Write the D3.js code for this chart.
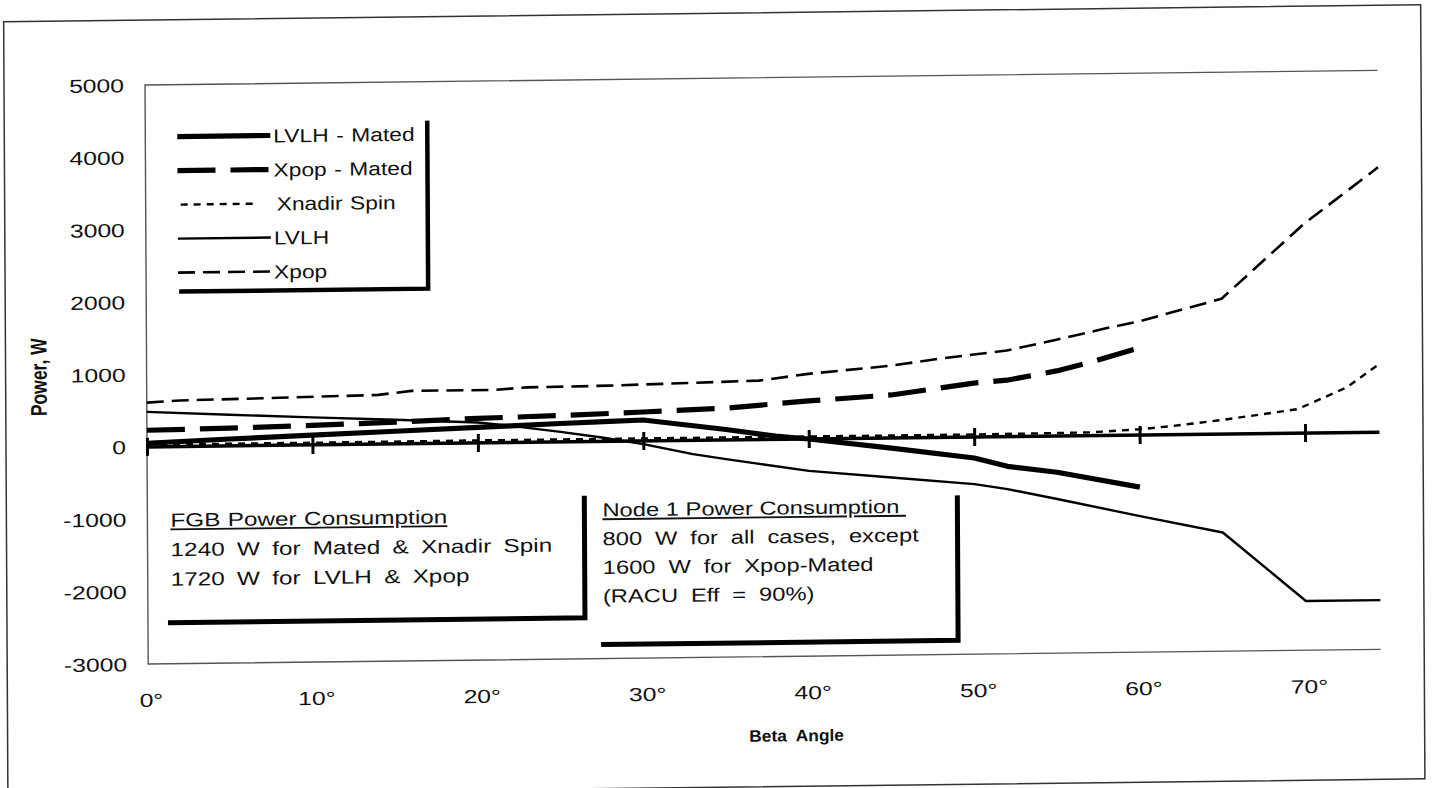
<!DOCTYPE html>
<html><head><meta charset="utf-8">
<script src="https://cdn.jsdelivr.net/npm/d3@7"></script>
<style>
body{margin:0;background:#fff;}
svg{display:block;}
text{font-family:"Liberation Sans",Arial,Helvetica,sans-serif;fill:#111;}
</style></head><body>
<svg id="chart" width="1435" height="788"></svg>
<script>
// ---------- data ----------
const betaTicks = [0, 10, 20, 30, 40, 50, 60, 70];
const betaTickLabels = ["0°", "10°", "20°", "30°", "40°", "50°", "60°", "70°"];
const powerTicks = [-3000, -2000, -1000, 0, 1000, 2000, 3000, 4000, 5000];
const powerTickLabels = ["-3000", "-2000", "-1000", "0", "1000", "2000", "3000", "4000", "5000"];
const seriesNames = ["LVLH - Mated", "Xpop - Mated", "Xnadir Spin", "LVLH", "Xpop"];

// [beta angle (deg), power (W)]
const lvlhMated = [[0,50],[5,95],[10,135],[15,175],[20,215],[22,230],[25,255],[28,275],[30,290],[35,145],[38,45],[40,0],[45,-140],[50,-290],[52,-410],[55,-500],[60,-720]];
const xpopMated = [[0,230],[5,245],[10,270],[15,300],[20,340],[25,365],[30,400],[35,440],[40,526],[45,595],[50,745],[52,780],[55,900],[57,1010],[60,1205]];
const xnadirSpin = [[0,30],[10,30],[20,35],[30,35],[40,35],[50,35],[57,45],[60,80],[62,120],[65,195],[69.5,330],[70,375],[72.5,620],[74.5,940]];
const lvlh = [[0,483],[5,430],[10,380],[15,335],[20,282],[22,230],[25,140],[27.5,54],[30,-44],[33,-190],[35,-265],[37,-335],[40,-440],[45,-545],[50,-650],[52,-725],[55,-870],[60,-1120],[65,-1360],[70,-2320],[74.5,-2320]];
const xpop = [[0,612],[2,636],[8,656],[14,680],[16,730],[21,730],[23,760],[28,770],[33,795],[37,815],[40,900],[45,1000],[48,1090],[50,1140],[52,1190],[55,1330],[58,1480],[60,1570],[65,1870],[70,2890],[74.5,3660]];

const fgbLines = ["FGB Power Consumption", "1240 W for Mated & Xnadir Spin", "1720 W for LVLH & Xpop"];
const nodeLines = ["Node 1 Power Consumption ", "800 W for all cases, except", "1600 W for Xpop-Mated", "(RACU Eff = 90%)"];

// ---------- styles / layout ----------
const seriesStyle = {
  "LVLH - Mated": {width: 5.2, dash: null},
  "Xpop - Mated": {width: 5.2, dash: "38,15"},
  "Xnadir Spin": {width: 2.4, dash: "7,6"},
  "LVLH": {width: 2.4, dash: null},
  "Xpop": {width: 2.6, dash: "17,8"}
};
const seriesData = [lvlhMated, xpopMated, xnadirSpin, lvlh, xpop];

const svg = d3.select("#chart");
svg.append("rect").attr("width", 1435).attr("height", 788).attr("fill", "#fff");

// slight skew of the scanned page
const skB = -0.0119, skC = 0.0055;
const g = svg.append("g")
  .attr("transform", `matrix(1,${skB},${skC},1,${-skC*447},${-skB*147})`);

const x = d3.scaleLinear().domain([0, 74.5]).range([147, 147 + 74.5*16.543]);
const y = d3.scaleLinear().domain([-3000, 5000]).range([664, 85]);

// outer frame
g.append("rect").attr("x", 6).attr("y", 20).attr("width", 1417).attr("height", 774)
  .attr("fill", "none").attr("stroke", "#333").attr("stroke-width", 1.5);

// plot border (top, left, bottom)
const [x0, x1] = x.range();
g.append("path")
  .attr("d", `M${x1},${y(5000)}H${x0}V${y(-3000)}H${x1}`)
  .attr("fill", "none").attr("stroke", "#555").attr("stroke-width", 1.4);

// y tick labels
g.append("g").selectAll("text").data(powerTicks).join("text")
  .attr("transform", d => `translate(126,${y(d)+7}) scale(1.3,1)`)
  .attr("text-anchor", "end").attr("font-size", 19)
  .text((d, i) => powerTickLabels[i]);

// x tick labels
g.append("g").selectAll("text").data(betaTicks).join("text")
  .attr("transform", d => `translate(${x(d)+3},707) scale(1.3,1)`)
  .attr("text-anchor", "middle").attr("font-size", 19)
  .text((d, i) => betaTickLabels[i]);

// axis titles
g.append("text").attr("transform", "translate(47,376) rotate(-90) scale(1,1.3)")
  .attr("text-anchor", "middle").attr("font-size", 17.5).attr("font-weight", "bold")
  .text("Power, W");
g.append("text").attr("transform", "translate(795,749) scale(1.05,1)")
  .attr("text-anchor", "middle").attr("font-size", 16.5).attr("font-weight", "bold")
  .style("white-space", "pre").text("Beta  Angle");

// zero axis line
g.append("line").attr("x1", x0).attr("x2", x1).attr("y1", y(0)).attr("y2", y(0))
  .attr("stroke", "#000").attr("stroke-width", 3.5);

// series
const line = d3.line().x(d => x(d[0])).y(d => y(d[1]));
g.append("g").selectAll("path").data(seriesData).join("path")
  .attr("d", d => line(d))
  .attr("fill", "none").attr("stroke", "#000")
  .attr("stroke-width", (d, i) => seriesStyle[seriesNames[i]].width)
  .attr("stroke-dasharray", (d, i) => seriesStyle[seriesNames[i]].dash)
  .attr("stroke-linejoin", "round");

// crossing ticks on zero axis
const tickAxis = d3.axisBottom(x).tickValues(betaTicks).tickSize(18).tickFormat("");
const ta = g.append("g").attr("transform", `translate(0,${y(0)-9})`).call(tickAxis);
ta.select(".domain").remove();
ta.selectAll("line").attr("stroke", "#000").attr("stroke-width", 3);

// legend
const leg = g.append("g");
seriesNames.forEach((name, i) => {
  const ly = 137 + i*34;
  const st = seriesStyle[name];
  leg.append("line").attr("x1", name === "Xnadir Spin" ? 182 : 179).attr("x2", name === "Xnadir Spin" ? 258 : 272)
    .attr("y1", ly).attr("y2", ly)
    .attr("stroke", "#000").attr("stroke-width", st.width).attr("stroke-dasharray", st.dash);
  leg.append("text").attr("transform", `translate(${name === "Xnadir Spin" ? 278 : 275},${ly+7}) scale(1.2,1)`)
    .attr("font-size", 19).style("word-spacing", "1px").text(name);
});
leg.append("path").attr("d", "M429,124V292H180").attr("fill", "none")
  .attr("stroke", "#000").attr("stroke-width", 4.5);

// FGB box
const fgb = g.append("g");
fgbLines.forEach((t, i) => {
  fgb.append("text").attr("transform", `translate(170,${527 + i*29.5}) scale(1.28,1)`)
    .attr("font-size", 19)
    .style("word-spacing", i === 0 ? "0.5px" : "4.3px")
    .style("text-decoration", i === 0 ? "underline" : null)
    .style("white-space", "pre")
    .text(t);
});
fgb.append("path").attr("d", "M584,501V623H167").attr("fill", "none")
  .attr("stroke", "#000").attr("stroke-width", 5);

// Node 1 box
const node = g.append("g");
nodeLines.forEach((t, i) => {
  node.append("text").attr("transform", `translate(602,${522 + i*28.7}) scale(1.25,1)`)
    .attr("font-size", 19)
    .style("word-spacing", i === 0 ? "0px" : "5px")
    .style("text-decoration", i === 0 ? "underline" : null)
    .style("white-space", "pre")
    .text(t);
});
node.append("path").attr("d", "M957,505V650H600").attr("fill", "none")
  .attr("stroke", "#000").attr("stroke-width", 5);
</script>
</body></html>
